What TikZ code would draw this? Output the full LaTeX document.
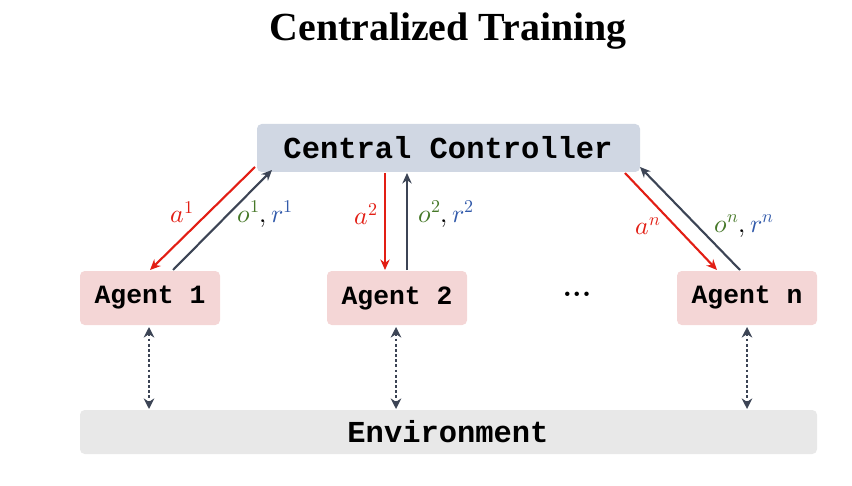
\documentclass[tikz,border=0pt]{standalone}
\usepackage{fontspec}
\usepackage{unicode-math}
\setmathfont{Latin Modern Math}
\newfontfamily\monob{Liberation Mono}
\newfontfamily\serifb{Liberation Serif}
\usetikzlibrary{arrows.meta}
\definecolor{ctrl}{RGB}{208,215,227}
\definecolor{agent}{RGB}{244,214,214}
\definecolor{env}{RGB}{232,232,232}
\definecolor{redA}{RGB}{226,30,20}
\definecolor{darkA}{RGB}{60,68,85}
\definecolor{greenT}{RGB}{70,120,40}
\definecolor{blueT}{RGB}{50,90,170}
\begin{document}
\begin{tikzpicture}[x=0.03cm,y=-0.03cm,
  box/.style={inner sep=0pt,font=\monob\bfseries\fontsize{22.5}{26}\selectfont},
  act/.style={redA,line width=1.8pt,-{Stealth[length=9pt,width=8pt]}},
  obs/.style={darkA,line width=1.8pt,-{Stealth[length=9pt,width=8pt]}},
  envl/.style={darkA,line width=2.4pt,dotted,{Stealth[length=9pt,width=9pt]}-{Stealth[length=9pt,width=9pt]}},
  lab/.style={inner sep=0pt,font=\fontsize{22}{26}\selectfont}]
\useasboundingbox (0,0) rectangle (852,486);
\node[font=\serifb\bfseries\fontsize{34}{40}\selectfont] (t) at (448,31) {Centralized Training};
\path[fill=ctrl,rounded corners=4pt] (257,124) rectangle (640,172);
\node[box,font=\monob\bfseries\fontsize{26}{30}\selectfont] (cc) at (448,148) {Central Controller};
\path[fill=agent,rounded corners=4pt] (80,271) rectangle (220,325);
\path[fill=agent,rounded corners=4pt] (327,271) rectangle (467,325);
\path[fill=agent,rounded corners=4pt] (677,271) rectangle (817,325);
\path[fill=env,rounded corners=4pt] (80,410) rectangle (817,454);
\node[box] (a1) at (150,298) {Agent 1};
\node[box] (a2) at (397,298) {Agent 2};
\node[box] (an) at (747,298) {Agent n};
\node[box,font=\monob\bfseries\fontsize{26}{30}\selectfont] (e) at (448,432) {Environment};
\node[font=\bfseries\fontsize{26}{28}\selectfont] (dots) at (577,294) {...};
\coordinate (c1s) at (255,167); \coordinate (a1e) at (150,270);
\coordinate (a1s) at (173,270); \coordinate (c1e) at (272,170);
\draw[act] (c1s) -- (a1e); \draw[obs] (a1s) -- (c1e);
\coordinate (c2s) at (385,173); \coordinate (a2e) at (385,270);
\coordinate (a2s) at (407,270); \coordinate (c2e) at (407,173);
\draw[act] (c2s) -- (a2e); \draw[obs] (a2s) -- (c2e);
\coordinate (c3s) at (625,173); \coordinate (a3e) at (717,270);
\coordinate (a3s) at (740,270); \coordinate (c3e) at (640,167);
\draw[act] (c3s) -- (a3e); \draw[obs] (a3s) -- (c3e);
\node[lab,redA] at (182,212) {$a^1$};
\node[lab] at (265,214) {$\color{greenT}o^1\color{black},\color{blueT}r^1$};
\node[lab,redA] at (366,214) {$a^2$};
\node[lab] at (446,214) {$\color{greenT}o^2\color{black},\color{blueT}r^2$};
\node[lab,redA] at (648,226) {$a^n$};
\node[lab] at (744,226) {$\color{greenT}o^n\color{black},\color{blueT}r^n$};
\foreach \x/\n in {149/1,396/2,747/3} {
  \coordinate (u\n) at (\x,327); \coordinate (d\n) at (\x,409);
  \draw[envl] (u\n) -- (d\n);
}
\end{tikzpicture}
\end{document}
